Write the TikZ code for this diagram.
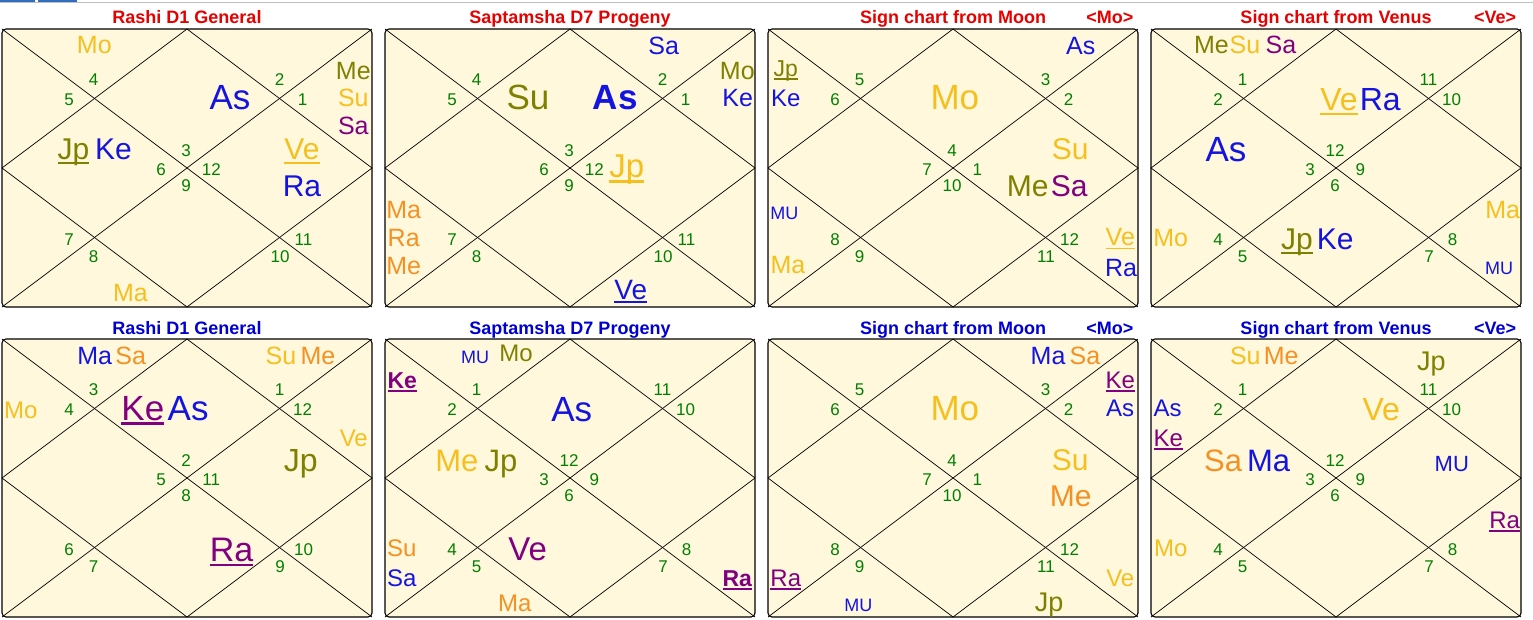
\documentclass[tikz,border=0pt]{standalone}
\usepackage{fontspec}
\setmainfont{Liberation Sans}
\definecolor{cream}{RGB}{255,248,220}
\definecolor{cblue}{RGB}{20,20,225}
\definecolor{cgold}{RGB}{245,192,30}
\definecolor{colive}{RGB}{128,128,0}
\definecolor{cpurple}{RGB}{128,0,128}
\definecolor{corange}{RGB}{245,145,35}
\definecolor{numgreen}{RGB}{0,128,0}
\definecolor{tred}{RGB}{230,0,0}
\definecolor{tblue}{RGB}{0,0,210}
\definecolor{barblue}{RGB}{50,110,190}
\definecolor{bargray}{RGB}{190,190,190}
\newcommand\ulc[2]{{\color{#1}\setbox0\hbox{#2}\rlap{\rule[-0.14em]{\wd0}{0.07em}}\box0}}
\newcommand\cc[2]{\textcolor{#1}{#2}}
\newcommand\chartbase[4]{%
  \coordinate (#1tl) at (0,0);
  \coordinate (#1tr) at (370,0);
  \coordinate (#1bl) at (0,278);
  \coordinate (#1br) at (370,278);
  \coordinate (#1t) at (185,0);
  \coordinate (#1r) at (370,139);
  \coordinate (#1b) at (185,278);
  \coordinate (#1l) at (0,139);
  \draw[frame] (#1tl) rectangle (#1br);
  \draw[grid] (#1tl) -- (#1br) (#1tr) -- (#1bl);
  \draw[grid] (#1t) -- (#1r) -- (#1b) -- (#1l) -- cycle;
  \foreach \h/\x/\y in {1/184/121.5, 2/91.5/51, 3/67/70.5, 4/159/140.3, 5/67/210.5, 6/91.5/227.5, 7/184/157, 8/278/227.5, 9/301.5/210.5, 10/209.3/140.3, 11/300.5/70.5, 12/277.5/51}{%
    \pgfmathtruncatemacro\signno{mod(#2+\h-2,12)+1}%
    \node[num] (#1n\h) at (\x,\y) {\signno};}
  \node[ttl, text=#3] (#1title) at (185,-5) {#4};
}
\begin{document}
\begin{tikzpicture}[x=1pt,y=-1pt,
  frame/.style={draw=black, line width=1.1pt, fill=cream, rounded corners=4pt},
  grid/.style={draw=black, line width=0.7pt},
  num/.style={text=numgreen, font=\fontsize{17}{18}\selectfont, inner sep=0pt},
  pl/.style={anchor=base, inner sep=0pt, font=\fontsize{#1}{#1}\selectfont},
  plb/.style={anchor=base, inner sep=0pt, font=\fontsize{#1}{#1}\selectfont\bfseries},
  ttl/.style={anchor=base, inner sep=0pt, font=\fontsize{18}{20}\selectfont\bfseries},
  bar/.style={line width=2pt}]
\useasboundingbox[fill=white] (0,0) rectangle (1533,620);
% top strip
\coordinate (s0) at (0,2.3); \coordinate (s1) at (1533,2.3);
\draw[bargray, line width=1pt] (s0) -- (s1);
\coordinate (b1a) at (0,1); \coordinate (b1b) at (35,1);
\coordinate (b2a) at (38,1); \coordinate (b2b) at (77,1);
\draw[barblue, bar] (b1a) -- (b1b) (b2a) -- (b2b);
% ---------- chart 1
\begin{scope}[shift={(2,29)}]
\chartbase{a}{3}{tred}{Rashi D1 General}
\node[pl=25,text=cgold] (aMo) at (92.3,24.3) {Mo};
\node[pl=25,text=colive] (aMe) at (351.3,50.3) {Me};
\node[pl=25,text=cgold] (aSu) at (351.3,77.7) {Su};
\node[pl=25,text=cpurple] (aSa) at (351.3,105.3) {Sa};
\node[pl=35,text=cblue] (aAs) at (228,81) {As};
\node[pl=30] (aJpKe) at (92.7,131) {\ulc{colive}{Jp}\hspace{0.2em}\cc{cblue}{Ke}};
\node[pl=30] (aVe) at (300,131) {\ulc{cgold}{Ve}};
\node[pl=30,text=cblue] (aRa) at (300,167.7) {Ra};
\node[pl=25,text=cgold] (aMa) at (128.5,272.7) {Ma};
\end{scope}
% ---------- chart 2
\begin{scope}[shift={(385,29)}]
\chartbase{b}{3}{tred}{Saptamsha D7 Progeny}
\node[pl=25,text=cblue] (bSa) at (278.7,25.3) {Sa};
\node[pl=35,text=colive] (bSu) at (143,81) {Su};
\node[plb=35,text=cblue] (bAs) at (230.3,81) {As};
\node[pl=25,text=colive] (bMo) at (352.3,50.3) {Mo};
\node[pl=25,text=cblue] (bKe) at (352.7,77.7) {Ke};
\node[pl=33] (bJp) at (241.7,149) {\ulc{cgold}{Jp}};
\node[pl=25,text=corange] (bMa) at (18.7,189.3) {Ma};
\node[pl=25,text=corange] (bRa) at (18.7,217.7) {Ra};
\node[pl=25,text=corange] (bMe) at (18.7,245) {Me};
\node[pl=28] (bVe) at (245.8,270.5) {\ulc{cblue}{Ve}};
\end{scope}
% ---------- chart 3
\begin{scope}[shift={(768,29)}]
\chartbase{c}{4}{tred}{Sign chart from Moon}
\node[ttl,text=tred] (cmark) at (341.8,-5) {<Mo>};
\node[pl=25,text=cblue] (cAs) at (312.7,25.3) {As};
\node[pl=23] (cJp) at (17.7,47.7) {\ulc{colive}{Jp}};
\node[pl=24,text=cblue] (cKe) at (17.7,77.7) {Ke};
\node[pl=35,text=cgold] (cMo) at (186.8,81) {Mo};
\node[pl=30,text=cgold] (cSu) at (302.2,131) {Su};
\node[pl=30] (cMeSa) at (279.2,167.7) {\cc{colive}{Me}\hspace{0.08em}\cc{cpurple}{Sa}};
\node[pl=18,text=cblue] (cMU) at (16.3,191) {MU};
\node[pl=25,text=cgold] (cMa) at (20,244.3) {Ma};
\node[pl=25] (cVe) at (352.3,217) {\ulc{cgold}{Ve}};
\node[pl=25,text=cblue] (cRa) at (353,247.7) {Ra};
\end{scope}
% ---------- chart 4
\begin{scope}[shift={(1151,29)}]
\chartbase{d}{12}{tred}{Sign chart from Venus}
\node[ttl,text=tred] (dmark) at (344.2,-5) {<Ve>};
\node[pl=25] (dMeSuSa) at (94.2,24.3) {\cc{colive}{Me}\hspace{0.03em}\cc{cgold}{Su}\hspace{0.22em}\cc{cpurple}{Sa}};
\node[pl=32] (dVeRa) at (209.5,82) {\ulc{cgold}{Ve}\hspace{0.07em}\cc{cblue}{Ra}};
\node[pl=35,text=cblue] (dAs) at (75,132.7) {As};
\node[pl=25,text=cgold] (dMa) at (351.7,189.3) {Ma};
\node[pl=25,text=cgold] (dMo) at (19.7,217.7) {Mo};
\node[pl=30] (dJpKe) at (166.3,221) {\ulc{colive}{Jp}\hspace{0.14em}\cc{cblue}{Ke}};
\node[pl=18,text=cblue] (dMU) at (348.2,245) {MU};
\end{scope}
% ---------- chart 5
\begin{scope}[shift={(2,339)}]
\chartbase{e}{2}{tblue}{Rashi D1 General}
\node[pl=25] (eMaSa) at (109.7,25.3) {\cc{cblue}{Ma}\hspace{0.13em}\cc{corange}{Sa}};
\node[pl=25] (eSuMe) at (298.5,25.3) {\cc{cgold}{Su}\hspace{0.17em}\cc{corange}{Me}};
\node[pl=24,text=cgold] (eMo) at (18.7,79.3) {Mo};
\node[pl=35] (eKeAs) at (163,81) {\ulc{cpurple}{Ke}\hspace{0.1em}\cc{cblue}{As}};
\node[pl=24,text=cgold] (eVe) at (351.8,107.7) {Ve};
\node[pl=32,text=colive] (eJp) at (298.8,132.7) {Jp};
\node[pl=34] (eRa) at (229.5,222.7) {\ulc{cpurple}{Ra}};
\end{scope}
% ---------- chart 6
\begin{scope}[shift={(385,339)}]
\chartbase{f}{12}{tblue}{Saptamsha D7 Progeny}
\node[pl=18,text=cblue] (fMU) at (90,24.3) {MU};
\node[pl=24,text=colive] (fMo) at (131,22.7) {Mo};
\node[plb=23] (fKe) at (17.2,49.3) {\ulc{cpurple}{Ke}};
\node[pl=35,text=cblue] (fAs) at (186.7,82.7) {As};
\node[pl=31] (fMeJp) at (91.3,132.7) {\cc{cgold}{Me}\hspace{0.2em}\cc{colive}{Jp}};
\node[pl=33,text=cpurple] (fVe) at (142.7,221) {Ve};
\node[pl=24,text=corange] (fSu) at (16.7,217.7) {Su};
\node[pl=24,text=cblue] (fSa) at (16.7,247.7) {Sa};
\node[pl=24,text=corange] (fMa) at (129.7,272.7) {Ma};
\node[plb=23] (fRa) at (352.2,247.7) {\ulc{cpurple}{Ra}};
\end{scope}
% ---------- chart 7
\begin{scope}[shift={(768,339)}]
\chartbase{g}{4}{tblue}{Sign chart from Moon}
\node[ttl,text=tblue] (gmark) at (341.8,-5) {<Mo>};
\node[pl=25] (gMaSa) at (297.5,25.3) {\cc{cblue}{Ma}\hspace{0.17em}\cc{corange}{Sa}};
\node[pl=24] (gKe) at (352.3,49.3) {\ulc{cpurple}{Ke}};
\node[pl=24,text=cblue] (gAs) at (352,77.7) {As};
\node[pl=35,text=cgold] (gMo) at (186.8,81) {Mo};
\node[pl=30,text=cgold] (gSu) at (302.2,131) {Su};
\node[pl=30,text=corange] (gMe) at (302.7,167.7) {Me};
\node[pl=24] (gRa) at (17.8,247.7) {\ulc{cpurple}{Ra}};
\node[pl=18,text=cblue] (gMU) at (90.3,272.7) {MU};
\node[pl=24,text=cgold] (gVe) at (352.3,247.7) {Ve};
\node[pl=27,text=colive] (gJp) at (281,272) {Jp};
\end{scope}
% ---------- chart 8
\begin{scope}[shift={(1151,339)}]
\chartbase{h}{12}{tblue}{Sign chart from Venus}
\node[ttl,text=tblue] (hmark) at (344.2,-5) {<Ve>};
\node[pl=25] (hSuMe) at (113.3,25.3) {\cc{cgold}{Su}\hspace{0.13em}\cc{corange}{Me}};
\node[pl=27,text=colive] (hJp) at (280.3,31) {Jp};
\node[pl=24,text=cblue] (hAs) at (16.7,77.7) {As};
\node[pl=24] (hKe) at (17.3,107.7) {\ulc{cpurple}{Ke}};
\node[pl=32,text=cgold] (hVe) at (230.3,81) {Ve};
\node[pl=31] (hSaMa) at (96.2,132.7) {\cc{corange}{Sa}\hspace{0.16em}\cc{cblue}{Ma}};
\node[pl=22,text=cblue] (hMU) at (300.8,132.7) {MU};
\node[pl=24] (hRa) at (353.7,189.3) {\ulc{cpurple}{Ra}};
\node[pl=24,text=cgold] (hMo) at (19.7,217.7) {Mo};
\end{scope}
\end{tikzpicture}
\end{document}
